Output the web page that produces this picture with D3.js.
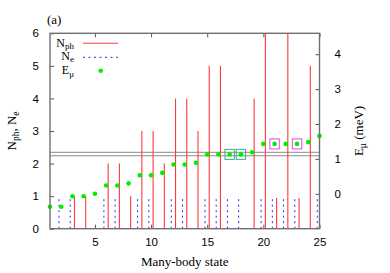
<!DOCTYPE html>
<html>
<head>
<meta charset="utf-8">
<script src="https://cdn.jsdelivr.net/npm/d3@7"></script>
<style>
  body { margin: 0; background: #fff; }
  svg { display: block; }
  .tk text { font-family: "Liberation Sans", Arial, sans-serif; font-size: 11.5px; fill: #000; }
  .lbl { font-family: "Liberation Serif", "Times New Roman", serif; font-size: 13px; fill: #000; }
  .leg { font-family: "Liberation Serif", "Times New Roman", serif; font-size: 12px; fill: #000; }
</style>
</head>
<body>
<div class="A"></div>
<script>
// many-body states on the x axis
var states = [1, 2, 3, 4, 5, 6, 7, 8, 9, 10, 11, 12, 13, 14, 15, 16, 17, 18, 19, 20, 21, 22, 23, 24, 25];
// photon number (values 20 and 22 run off the top)
var nph = [0, 0, 1, 1, 0, 2, 2, 1, 3, 3, 2, 4, 4, 3, 5, 5, 0, 0, 4, 7, 0.94, 7, 0.94, 5, 0];
// electron number
var ne = [0, 1, 1, 0, 0, 1, 1, 0, 1, 1, 0, 1, 1, 0, 1, 1, 1, 1, 0, 1, 1, 1, 1, 0, 1];
// energy, meV
var emu = [-0.37, -0.37, -0.07, -0.07, 0.0, 0.24, 0.24, 0.30, 0.53, 0.53, 0.60, 0.84, 0.84, 0.89,
           1.13, 1.13, 1.13, 1.13, 1.19, 1.43, 1.43, 1.43, 1.43, 1.48, 1.66];
var levels = [1.09, 1.19];
var boxTeal = [17, 18];
var boxMag = [21, 23];
var xTicks = [5, 10, 15, 20, 25];
var yTicks = [0, 1, 2, 3, 4, 5, 6];
var y2Ticks = [0, 1, 2, 3, 4];

function initA() {
    var width = 390, height = 273;
    var L = 50, R = 319.5, T = 33.3, B = 228.7;

    var svg = d3.select('.A').append('svg').attr('width', width).attr('height', height);

    var x = d3.scaleLinear().domain([1, 25]).range([L, R]);
    var y = d3.scaleLinear().domain([0, 6]).range([B, T]);
    var y2 = d3.scaleLinear().domain([-1, 4.6]).range([B, T]);

    svg.append('clipPath').attr('id', 'clip').append('rect')
        .attr('x', L).attr('y', T).attr('width', R - L).attr('height', B - T);

    var plot = svg.append('g').attr('clip-path', 'url(#clip)');

    // level lines
    plot.selectAll('.lev').data(levels).enter().append('line')
        .attr('x1', L).attr('x2', R)
        .attr('y1', function (d) { return y2(d); }).attr('y2', function (d) { return y2(d); })
        .attr('stroke', '#8a8a8a').attr('stroke-width', 1);

    // N_e impulses, shifted left
    plot.selectAll('.ne').data(states.filter(function (s, i) { return ne[i] > 0; })).enter().append('line')
        .attr('x1', function (d) { return x(d - 0.2); }).attr('x2', function (d) { return x(d - 0.2); })
        .attr('y1', y(0)).attr('y2', function (d) { return y(ne[d - 1]); })
        .attr('stroke', '#2a2aff').attr('stroke-width', 1).attr('stroke-dasharray', '2,3.5');

    // N_ph impulses, shifted right
    plot.selectAll('.nph').data(states.filter(function (s, i) { return nph[i] > 0; })).enter().append('line')
        .attr('x1', function (d) { return x(d + 0.18); }).attr('x2', function (d) { return x(d + 0.18); })
        .attr('y1', y(0)).attr('y2', function (d) { return y(nph[d - 1]); })
        .attr('stroke', '#ff3a3a').attr('stroke-width', 1.1);

    // boxes round some states
    function boxes(list, col) {
        plot.selectAll(null).data(list).enter().append('rect')
            .attr('x', function (d) { return x(d) - 4.7; })
            .attr('y', function (d) { return y2(emu[d - 1]) - 5; })
            .attr('width', 9.4).attr('height', 10)
            .attr('fill', 'none').attr('stroke', col).attr('stroke-width', 1);
    }
    boxes(boxTeal, '#3aae86');
    boxes(boxMag, '#f040f0');

    // E_mu points
    svg.selectAll('.em').data(states).enter().append('circle')
        .attr('cx', function (d) { return x(d); })
        .attr('cy', function (d, i) { return y2(emu[i]); })
        .attr('r', 2.3).attr('fill', '#00ee00');

    // axes, ticks point inside
    var fmt = d3.format('d');
    svg.append('g').attr('class', 'tk').attr('transform', 'translate(0,' + B + ')')
        .call(d3.axisBottom(x).tickValues(xTicks).tickSize(-4).tickSizeOuter(0).tickPadding(9).tickFormat(fmt));
    svg.append('g').attr('class', 'tk').attr('transform', 'translate(0,' + T + ')')
        .call(d3.axisTop(x).tickValues(xTicks).tickSize(-4).tickSizeOuter(0).tickFormat(''));
    svg.append('g').attr('class', 'tk').attr('transform', 'translate(' + L + ',0)')
        .call(d3.axisLeft(y).tickValues(yTicks).tickSize(-4).tickSizeOuter(0).tickPadding(11).tickFormat(fmt));
    svg.append('g').attr('class', 'tk').attr('transform', 'translate(' + R + ',0)')
        .call(d3.axisRight(y2).tickValues(y2Ticks).tickSize(-4).tickSizeOuter(0).tickPadding(15).tickFormat(fmt));
    svg.selectAll('.tk .domain').remove();
    svg.selectAll('.tk line').attr('stroke', '#555').attr('stroke-width', 1);

    // border
    svg.append('rect').attr('x', L).attr('y', T).attr('width', R - L).attr('height', B - T)
        .attr('fill', 'none').attr('stroke', '#707070').attr('stroke-width', 1.4);

    // labels
    function sub(el, main, s, dy) {
        el.append('tspan').text(main);
        el.append('tspan').attr('dy', dy).attr('font-size', '9px').text(s);
    }
    svg.append('text').attr('class', 'lbl').attr('x', 47).attr('y', 24).text('(a)');
    svg.append('text').attr('class', 'lbl').attr('x', (L + R) / 2).attr('y', 266)
        .attr('text-anchor', 'middle').text('Many-body state');

    var yl = svg.append('text').attr('class', 'lbl').attr('text-anchor', 'middle')
        .attr('transform', 'translate(16,' + ((T + B) / 2) + ') rotate(-90)');
    yl.append('tspan').text('N');
    yl.append('tspan').attr('dy', 3).attr('font-size', '9.5px').text('ph');
    yl.append('tspan').attr('dy', -3).text(', N');
    yl.append('tspan').attr('dy', 3).attr('font-size', '9.5px').text('e');

    var y2l = svg.append('text').attr('class', 'lbl').attr('text-anchor', 'middle')
        .attr('transform', 'translate(363,' + ((T + B) / 2) + ') rotate(-90)');
    y2l.append('tspan').text('E');
    y2l.append('tspan').attr('dy', 3).attr('font-size', '9.5px').text('μ');
    y2l.append('tspan').attr('dy', -3).text(' (meV)');

    // legend
    var lg = svg.append('g');
    var ly = [43.3, 57.3, 70.7];
    var t1 = lg.append('text').attr('class', 'leg').attr('x', 74).attr('y', ly[0] + 3.5).attr('text-anchor', 'end');
    sub(t1, 'N', 'ph', 2.5);
    var t2 = lg.append('text').attr('class', 'leg').attr('x', 74).attr('y', ly[1] + 2.5).attr('text-anchor', 'end');
    sub(t2, 'N', 'e', 2.5);
    var t3 = lg.append('text').attr('class', 'leg').attr('x', 74).attr('y', ly[2] + 3.5).attr('text-anchor', 'end');
    sub(t3, 'E', 'μ', 2.5);
    lg.append('line').attr('x1', 83).attr('x2', 118).attr('y1', ly[0]).attr('y2', ly[0])
        .attr('stroke', '#ff3a3a').attr('stroke-width', 1.1);
    lg.append('line').attr('x1', 83).attr('x2', 118).attr('y1', ly[1]).attr('y2', ly[1])
        .attr('stroke', '#2a2aff').attr('stroke-width', 1).attr('stroke-dasharray', '2,3.5');
    lg.append('circle').attr('cx', 100.7).attr('cy', ly[2]).attr('r', 2.3).attr('fill', '#00ee00');
}
initA();
</script>
</body>
</html>
